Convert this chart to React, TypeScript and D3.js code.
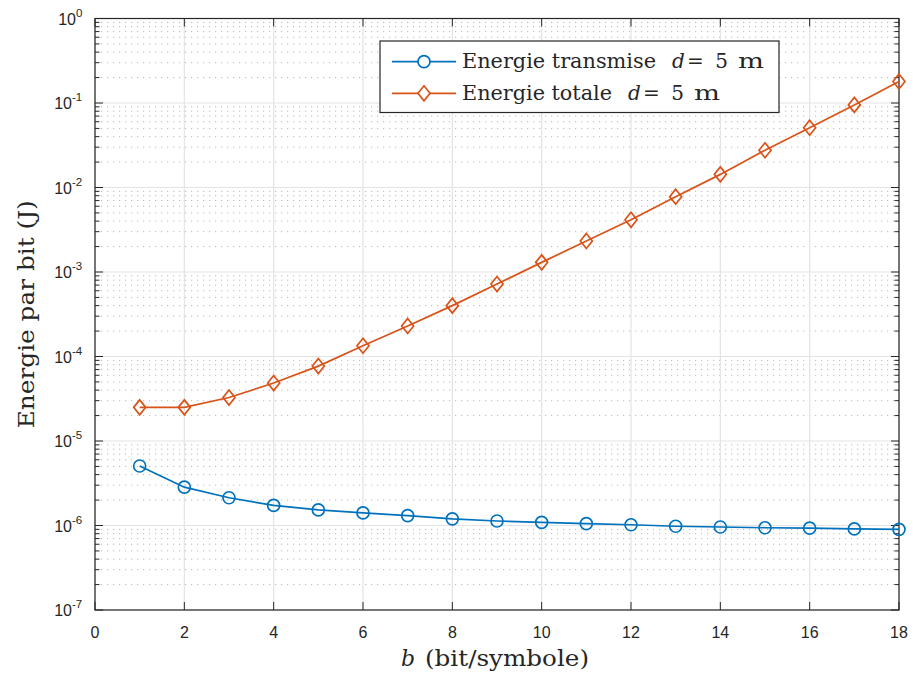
import React from "react";
import * as d3 from "d3";

const bits = [1, 2, 3, 4, 5, 6, 7, 8, 9, 10, 11, 12, 13, 14, 15, 16, 17, 18];
const energyTransmitted = [
  5.06e-6, 2.84e-6, 2.13e-6, 1.73e-6, 1.53e-6, 1.41e-6, 1.31e-6, 1.2e-6, 1.13e-6,
  1.09e-6, 1.05e-6, 1.02e-6, 0.98e-6, 0.96e-6, 0.94e-6, 0.93e-6, 0.91e-6, 0.9e-6,
];
const energyTotal = [
  2.5e-5, 2.5e-5, 3.27e-5, 4.85e-5, 7.7e-5, 1.34e-4, 2.3e-4, 4.0e-4, 7.2e-4,
  1.3e-3, 2.33e-3, 4.15e-3, 7.78e-3, 1.43e-2, 2.76e-2, 5.1e-2, 9.5e-2, 0.18,
];
const xTicks = [0, 2, 4, 6, 8, 10, 12, 14, 16, 18];
const yExponents = [0, -1, -2, -3, -4, -5, -6, -7];
const legendLabels = ["Energie transmise", "Energie totale"];
const legendWordWidths = [194, 150];
const legendMathStarts = [672, 628];

const W = 915;
const H = 677;
const M = { left: 95, top: 18.5, right: 899, bottom: 610 };
const BLUE = "#0072BD";
const ORANGE = "#D95319";
const AX = "#262626";
const SANS = "'Liberation Sans', Arial, Helvetica, sans-serif";
const SERIF = "'DejaVu Serif', 'Liberation Serif', serif";

export default function App() {
  const x = d3.scaleLinear().domain([0, 18]).range([M.left, M.right]);
  const y = d3.scaleLog().domain([1e-7, 1]).range([M.bottom, M.top]);

  const line = d3
    .line<[number, number]>()
    .x((d) => x(d[0]))
    .y((d) => y(d[1]));

  const s1: [number, number][] = bits.map((b, i) => [b, energyTransmitted[i]]);
  const s2: [number, number][] = bits.map((b, i) => [b, energyTotal[i]]);

  const minorVals: number[] = [];
  yExponents.forEach((e) => {
    if (e === 0) return;
    for (let k = 2; k <= 9; k++) minorVals.push(k * Math.pow(10, e));
  });

  const diamond = (cx: number, cy: number) =>
    `M${cx},${cy - 7.5}L${cx + 6},${cy}L${cx},${cy + 7.5}L${cx - 6},${cy}Z`;

  const majTick = 8;
  const minTick = 4.5;
  const legFont = 20;

  return (
    <svg
      width={W}
      height={H}
      style={{ position: "absolute", left: 0, top: 0, background: "#fff" }}
    >
      <rect x={0} y={0} width={W} height={H} fill="#fff" />
      {minorVals.map((v, i) => (
        <line
          key={"mg" + i}
          x1={M.left}
          x2={M.right}
          y1={y(v)}
          y2={y(v)}
          stroke="#b8b8b8"
          strokeWidth={1}
          strokeDasharray="1.2 4.8"
        />
      ))}
      {yExponents.map((e) => (
        <line
          key={"gy" + e}
          x1={M.left}
          x2={M.right}
          y1={y(Math.pow(10, e))}
          y2={y(Math.pow(10, e))}
          stroke="#e3e3e3"
          strokeWidth={1.2}
        />
      ))}
      {xTicks.map((t) => (
        <line
          key={"gx" + t}
          x1={x(t)}
          x2={x(t)}
          y1={M.top}
          y2={M.bottom}
          stroke="#e3e3e3"
          strokeWidth={1.2}
        />
      ))}
      {xTicks.map((t) => (
        <g key={"xt" + t}>
          <line x1={x(t)} x2={x(t)} y1={M.bottom} y2={M.bottom - majTick} stroke={AX} />
          <line x1={x(t)} x2={x(t)} y1={M.top} y2={M.top + majTick} stroke={AX} />
          <text
            x={x(t)}
            y={638}
            textAnchor="middle"
            fontFamily={SANS}
            fontSize={16}
            fill={AX}
          >
            {t}
          </text>
        </g>
      ))}
      {yExponents.map((e) => {
        const yy = y(Math.pow(10, e));
        return (
          <g key={"yt" + e}>
            <line x1={M.left} x2={M.left + majTick} y1={yy} y2={yy} stroke={AX} />
            <line x1={M.right} x2={M.right - majTick} y1={yy} y2={yy} stroke={AX} />
            <text
              x={e < 0 ? 72 : 76}
              y={yy + 6}
              textAnchor="end"
              fontFamily={SANS}
              fontSize={16}
              fill={AX}
            >
              10
            </text>
            <text
              x={e < 0 ? 72 : 76}
              y={yy - 2}
              textAnchor="start"
              fontFamily={SANS}
              fontSize={11.5}
              fill={AX}
            >
              {e}
            </text>
          </g>
        );
      })}
      {minorVals.map((v, i) => (
        <g key={"mt" + i}>
          <line x1={M.left} x2={M.left + minTick} y1={y(v)} y2={y(v)} stroke={AX} />
          <line x1={M.right} x2={M.right - minTick} y1={y(v)} y2={y(v)} stroke={AX} />
        </g>
      ))}
      <rect
        x={M.left}
        y={M.top}
        width={M.right - M.left}
        height={M.bottom - M.top}
        fill="none"
        stroke={AX}
        strokeWidth={1.2}
      />
      <path d={line(s1) || ""} fill="none" stroke={BLUE} strokeWidth={1.7} />
      {s1.map((d, i) => (
        <circle
          key={"c" + i}
          cx={x(d[0])}
          cy={y(d[1])}
          r={6}
          fill="none"
          stroke={BLUE}
          strokeWidth={1.7}
        />
      ))}
      <path d={line(s2) || ""} fill="none" stroke={ORANGE} strokeWidth={1.7} />
      {s2.map((d, i) => (
        <path
          key={"d" + i}
          d={diamond(x(d[0]), y(d[1]))}
          fill="none"
          stroke={ORANGE}
          strokeWidth={1.7}
        />
      ))}
      <g>
        <rect x={380} y={41} width={399} height={71.5} fill="#fff" stroke={AX} strokeWidth={1.2} />
        <line x1={392} x2={456} y1={61.7} y2={61.7} stroke={BLUE} strokeWidth={1.7} />
        <circle cx={424} cy={61.7} r={6} fill="#fff" stroke={BLUE} strokeWidth={1.7} />
        <line x1={392} x2={456} y1={93.3} y2={93.3} stroke={ORANGE} strokeWidth={1.7} />
        <path d={diamond(424, 93.3)} fill="#fff" stroke={ORANGE} strokeWidth={1.7} />
        {legendLabels.map((lab, i) => {
          const by = 68 + i * 31.6;
          const m0 = legendMathStarts[i];
          return (
            <g key={"lg" + i} fontFamily={SERIF} fontSize={legFont} fill={AX}>
              <text x={462} y={by} textLength={legendWordWidths[i]} lengthAdjust="spacingAndGlyphs">
                {lab}
              </text>
              <text x={m0} y={by} fontStyle="italic">
                d
              </text>
              <text x={m0 + 23.5} y={by} textAnchor="middle">
                =
              </text>
              <text x={m0 + 49.5} y={by} textAnchor="middle">
                5
              </text>
              <text x={m0 + 66} y={by} textLength={26} lengthAdjust="spacingAndGlyphs">
                m
              </text>
            </g>
          );
        })}
      </g>
      <text
        x={401}
        y={666}
        fontFamily={SERIF}
        fontSize={22}
        fill={AX}
        fontStyle="italic"
      >
        b
      </text>
      <text
        x={425}
        y={666}
        fontFamily={SERIF}
        fontSize={22}
        fill={AX}
        textLength={164}
        lengthAdjust="spacingAndGlyphs"
      >
        (bit/symbole)
      </text>
      <text
        transform={`translate(34,${(M.top + M.bottom) / 2}) rotate(-90)`}
        textAnchor="middle"
        fontFamily={SERIF}
        fontSize={22}
        fill={AX}
        textLength={228}
        lengthAdjust="spacingAndGlyphs"
      >
        Energie par bit (J)
      </text>
    </svg>
  );
}
